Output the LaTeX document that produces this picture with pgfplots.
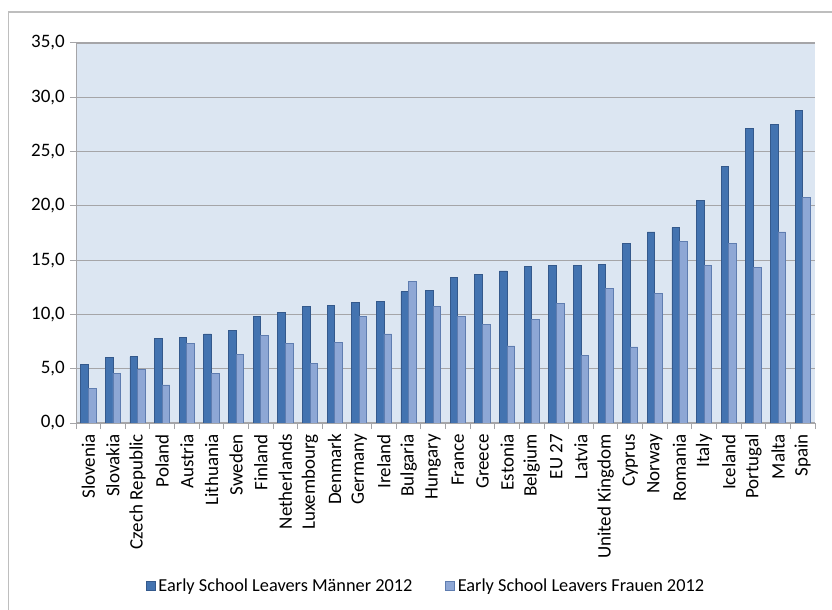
\documentclass[border=0pt]{standalone}
\usepackage{pgfplots}
\pgfplotsset{compat=1.18}
\usepackage{pgfplotstable}
\usepackage{fontspec}
\setmainfont{Carlito}
\definecolor{mdark}{HTML}{4373B0}
\definecolor{mdarkedge}{HTML}{34598C}
\definecolor{mlight}{HTML}{8EA7D5}
\definecolor{mlightedge}{HTML}{5F7DB0}
\definecolor{plotbg}{HTML}{DCE6F2}
\definecolor{gridc}{HTML}{A5A5A8}
\definecolor{framec}{HTML}{BEBEBE}
\pgfplotstableread{
x m f
0 5.4 3.2
1 6.0 4.6
2 6.1 4.9
3 7.8 3.5
4 7.9 7.3
5 8.2 4.6
6 8.5 6.3
7 9.8 8.1
8 10.2 7.3
9 10.7 5.5
10 10.8 7.4
11 11.1 9.8
12 11.2 8.2
13 12.1 13.0
14 12.2 10.7
15 13.4 9.8
16 13.7 9.1
17 14.0 7.1
18 14.4 9.5
19 14.5 11.0
20 14.5 6.2
21 14.6 12.4
22 16.5 7.0
23 17.6 11.9
24 18.0 16.7
25 20.5 14.5
26 23.6 16.5
27 27.1 14.3
28 27.5 17.6
29 28.8 20.8
}\datatable
\begin{document}
\fontsize{19bp}{23bp}\selectfont
\begin{tikzpicture}
\useasboundingbox (0,0) rectangle (832bp,610bp);
\draw[framec, line width=1.5bp] (8.5bp,-5bp) -- (8.5bp,598bp) -- (840bp,598bp);
\begin{axis}[
  at={(76bp,187bp)}, anchor=south west,
  width=739bp, height=380bp, scale only axis,
  ybar=0pt, bar width=7.6bp,
  xmin=-0.5, xmax=29.5, ymin=0, ymax=35,
  ytick={0,5,...,35},
  xtick={0,...,29},
  xticklabels={Slovenia,Slovakia,Czech Republic,Poland,Austria,Lithuania,Sweden,Finland,Netherlands,Luxembourg,Denmark,Germany,Ireland,Bulgaria,Hungary,France,Greece,Estonia,Belgium,EU 27,Latvia,United Kingdom,Cyprus,Norway,Romania,Italy,Iceland,Portugal,Malta,Spain},
  minor xtick={-0.5,0.5,...,29.5},
  major x tick style={draw=none},
  tick align=outside,
  major tick length=6bp, minor tick length=6bp,
  tick style={gridc, line width=1bp},
  axis x line*=bottom, axis y line*=left,
  axis line style={gridc, line width=1bp, -},
  ymajorgrids, major grid style={gridc, line width=1.2bp},
  axis background/.style={fill=plotbg},
  xticklabel style={rotate=90, anchor=east, inner sep=0pt, yshift=0bp, xshift=-5bp},
  yticklabel style={anchor=east, inner sep=0pt, xshift=-5bp},
  /pgf/number format/.cd, fixed, fixed zerofill, precision=1, use comma, assume math mode=true,
  /pgfplots/.cd,
  legend columns=2,
  legend style={at={(0.4745,-0.43)}, anchor=center, draw=none, fill=none,
    font=\fontsize{18.3bp}{22bp}\selectfont,
    /tikz/every even column/.append style={column sep=30bp},
    /tikz/every odd column/.append style={column sep=0bp},
    nodes={inner xsep=3bp}},
  legend image code/.code={\draw[#1] (0bp,-4.5bp) rectangle (8.5bp,4.5bp);},
]
\addplot[fill=mdark, draw=mdarkedge, line width=0.8bp] table[x=x,y=m] {\datatable};
\addplot[fill=mlight, draw=mlightedge, line width=0.8bp] table[x=x,y=f] {\datatable};
\legend{Early School Leavers Männer 2012, Early School Leavers Frauen 2012}
\end{axis}
\end{tikzpicture}
\end{document}
